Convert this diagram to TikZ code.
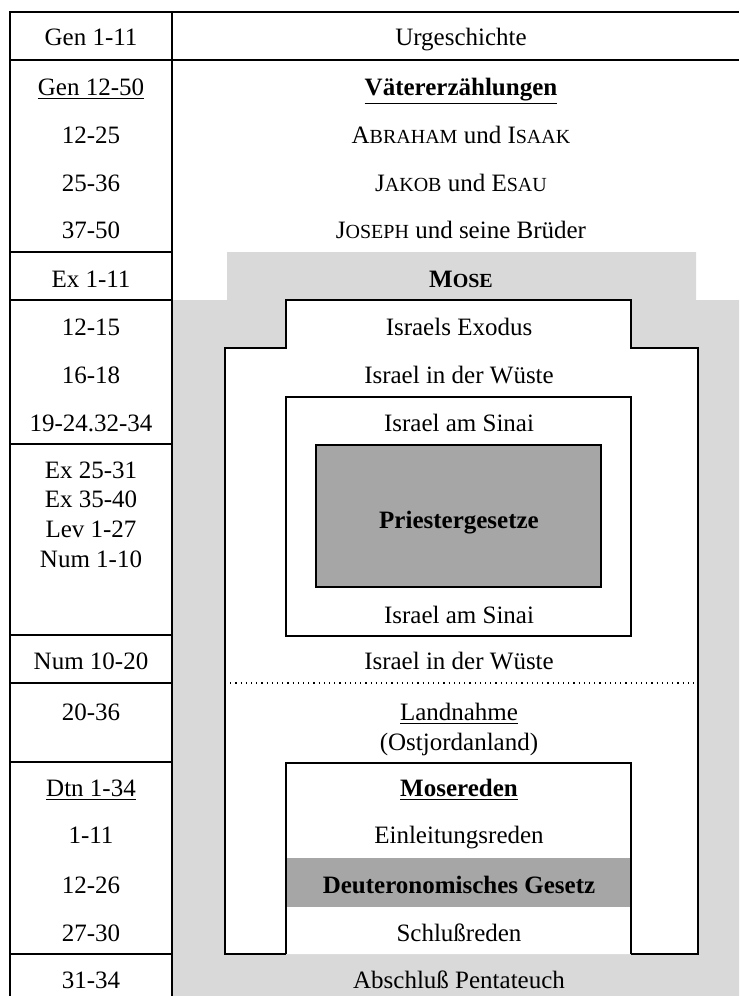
\documentclass[tikz,border=0pt]{standalone}
\usepackage{fontspec}
\setmainfont{Liberation Serif}
\usepackage{xcolor}
\usepackage{tikz}
\usetikzlibrary{positioning}
\definecolor{hellgrau}{gray}{0.85}
\definecolor{dunkelgrau}{gray}{0.65}
\newcommand{\kap}[2]{#1{\fontsize{10}{12}\selectfont #2}}
\tikzset{
    txt/.style={font=\fontsize{12.5}{15}\selectfont, inner sep=0pt, text height=9pt, text depth=1pt},
    rule/.style={line width=0.8pt},
}
\begin{document}
\begin{tikzpicture}[x=0.5pt, y=-0.5pt]
        \useasboundingbox (0,0) rectangle (739,996);
        \fill[white] (0,0) rectangle (739,996);
        % grauer Hintergrund (Mose)
        \fill[hellgrau] (172,300) -- (227,300) -- (227,252) -- (696,252) -- (696,300) -- (739,300) -- (739,996) -- (172,996) -- cycle;
        % weisser Rahmen: Exodus bis Landnahme
        \fill[white] (286,300) -- (631,300) -- (631,348) -- (698,348) -- (698,954) -- (225,954) -- (225,348) -- (286,348) -- cycle;
        \draw[rule] (286,954) -- (225,954) -- (225,348) -- (286,348) -- (286,300) -- (631,300) -- (631,348) -- (698,348) -- (698,954) -- (631,954);
        % Sinai mit Priestergesetzen
        \draw[rule, fill=white] (286,397) rectangle (631,636);
        \draw[rule, fill=dunkelgrau] (316,445) rectangle (601,587);
        \draw[line width=0.6pt, dotted] (225,683) -- (698,683);
        % Mosereden
        \fill[dunkelgrau] (286,858) rectangle (631,907);
        \draw[rule] (286,954) -- (286,763) -- (631,763) -- (631,954);
        % linke Spalte
        \fill[white] (10,12) rectangle (172,996);
        \draw[rule] (10,996) -- (10,12) -- (739,12);
        \draw[rule] (172,12) -- (172,996);
        \draw[rule] (10,60) -- (739,60);
        \foreach \y in {252,300,444,635,683,762,954}
            \draw[rule] (10,\y) -- (172,\y);

        % Stellen
        \node[txt] (gen) at (91,37) {Gen 1-11};
        \node[txt] (vaeter) at (91,87) {\underline{Gen 12-50}};
        \node[txt] (abr) at (91,135) {12-25};
        \node[txt] (jak) at (91,183) {25-36};
        \node[txt] (jos) at (91,230) {37-50};
        \node[txt] (ex) at (91,279) {Ex 1-11};
        \node[txt] (exo) at (91,327) {12-15};
        \node[txt] (wue) at (91,375) {16-18};
        \node[txt] (sin) at (91,423) {19-24.32-34};
        \node[txt] (pa) at (91,470) {Ex 25-31};
        \node[txt] (pb) at (91,499) {Ex 35-40};
        \node[txt] (pc) at (91,529) {Lev 1-27};
        \node[txt] (pd) at (91,559) {Num 1-10};
        \node[txt] (num) at (91,661) {Num 10-20};
        \node[txt] (land) at (91,712) {20-36};
        \node[txt] (dtn) at (91,788) {\underline{Dtn 1-34}};
        \node[txt] (einl) at (91,835) {1-11};
        \node[txt] (dtg) at (91,885) {12-26};
        \node[txt] (schl) at (91,933) {27-30};
        \node[txt] (absch) at (91,980) {31-34};

        % Inhalte
        \node[txt] (urg) at (461,37) {Urgeschichte};
        \node[txt] (vaeterT) at (461,87) {\textbf{\underline{Vätererzählungen}}};
        \node[txt] (abrT) at (461,135) {\kap{A}{BRAHAM} und \kap{I}{SAAK}};
        \node[txt] (jakT) at (461,183) {\kap{J}{AKOB} und \kap{E}{SAU}};
        \node[txt] (josT) at (461,230) {\kap{J}{OSEPH} und seine Brüder};
        \node[txt] (mose) at (461,279) {\textbf{\kap{M}{OSE}}};
        \node[txt] (exoT) at (459,327) {Israels Exodus};
        \node[txt] (wueT) at (459,375) {Israel in der Wüste};
        \node[txt] (sinT) at (459,423) {Israel am Sinai};
        \node[txt] (priester) at (459,520) {\textbf{Priestergesetze}};
        \node[txt] (sinU) at (459,615) {Israel am Sinai};
        \node[txt] (wueU) at (459,661) {Israel in der Wüste};
        \node[txt] (landT) at (459,712) {\underline{Landnahme}};
        \node[txt] (ostj) at (459,742) {(Ostjordanland)};
        \node[txt] (mosereden) at (459,788) {\textbf{\underline{Mosereden}}};
        \node[txt] (einlT) at (459,835) {Einleitungsreden};
        \node[txt] (dtgT) at (459,885) {\textbf{Deuteronomisches Gesetz}};
        \node[txt] (schlT) at (459,933) {Schlußreden};
        \node[txt] (abschT) at (459,980) {Abschluß Pentateuch};
\end{tikzpicture}
\end{document}
